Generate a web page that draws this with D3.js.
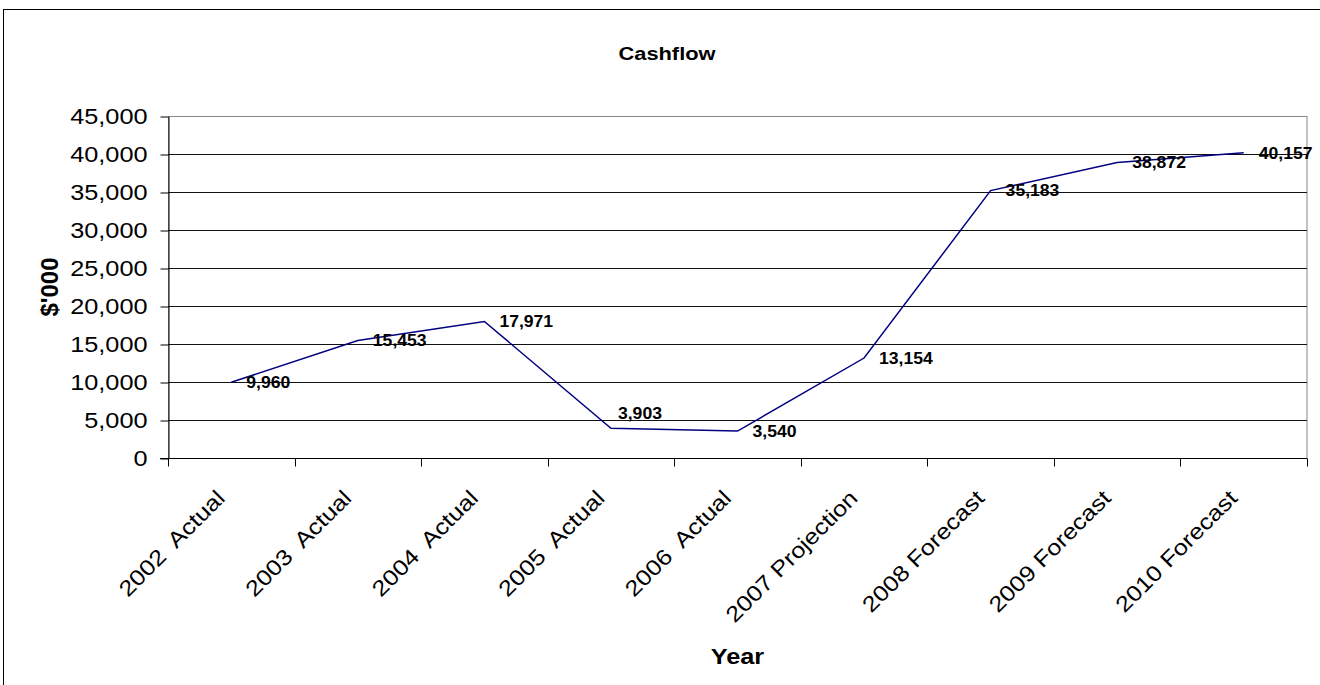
<!DOCTYPE html>
<html>
<head>
<meta charset="utf-8">
<script src="https://cdn.jsdelivr.net/npm/d3@7"></script>
<style>
  body { margin: 0; background: #fff; }
  svg { display: block; font-family: "Liberation Sans", Arial, sans-serif; }
  .tick text { white-space: pre; }
</style>
</head>
<body>
<svg width="1320" height="685"></svg>
<script>
// chart data
const years = ['2002  Actual', '2003  Actual', '2004  Actual', '2005  Actual', '2006  Actual',
  '2007 Projection', '2008 Forecast', '2009 Forecast', '2010 Forecast'];
const cashflow = [9960, 15453, 17971, 3903, 3540, 13154, 35183, 38872, 40157];
const yTicks = [0, 5000, 10000, 15000, 20000, 25000, 30000, 35000, 40000, 45000];
// where each data label sits relative to its point
const labelSide = ['right', 'right', 'right', 'above', 'right', 'right', 'right', 'right', 'right'];

const svg = d3.select('svg');
const plotLeft = 168, plotRight = 1307, plotTop = 116, plotBottom = 458;
const stretch = 1.15;

// outer chart frame
svg.append('rect')
  .attr('x', 3.5).attr('y', 9.5)
  .attr('width', 1340).attr('height', 700)
  .attr('fill', 'none').attr('stroke', '#000');

const x = d3.scaleBand().domain(years).range([plotLeft, plotRight]).padding(0);
const y = d3.scaleLinear().domain([0, 45000]).range([plotBottom, plotTop]);

// plot area border
svg.append('rect')
  .attr('x', plotLeft + 0.5).attr('y', plotTop + 0.5)
  .attr('width', plotRight - plotLeft - 0.5).attr('height', plotBottom - plotTop)
  .attr('fill', 'none').attr('stroke', '#888');

// gridlines
svg.append('g')
  .selectAll('line')
  .data(yTicks.filter(d => d > 0 && d < 45000))
  .join('line')
  .attr('x1', plotLeft).attr('x2', plotRight)
  .attr('y1', d => Math.round(y(d)) + 0.5).attr('y2', d => Math.round(y(d)) + 0.5)
  .attr('stroke', '#111').attr('stroke-width', 1);

// y axis
const yAxis = svg.append('g')
  .attr('transform', `translate(${plotLeft + 0.5},0.5)`)
  .call(d3.axisLeft(y).tickValues(yTicks).tickFormat(d3.format(',')).tickSize(8).tickSizeOuter(0));
yAxis.select('.domain').attr('stroke', '#000');
yAxis.selectAll('.tick line').attr('stroke', '#000');
yAxis.selectAll('.tick text')
  .attr('font-size', 22).attr('fill', '#000')
  .attr('x', -21 / stretch)
  .attr('transform', `scale(${stretch},1)`);

// x axis: labels at category centres, ticks at category edges
const xAxis = svg.append('g')
  .attr('transform', `translate(0,${plotBottom + 0.5})`)
  .call(d3.axisBottom(x).tickSize(0));
xAxis.select('.domain').remove();
xAxis.append('line')
  .attr('x1', plotLeft - 8).attr('x2', plotRight).attr('stroke', '#000');
xAxis.selectAll('.edge')
  .data(years.map(d => x(d)).concat([plotRight]))
  .join('line')
  .attr('class', 'edge')
  .attr('x1', d => Math.round(d) + 0.5).attr('x2', d => Math.round(d) + 0.5)
  .attr('y1', 0).attr('y2', 8)
  .attr('stroke', '#000');
xAxis.selectAll('.tick text')
  .attr('font-size', 22).attr('fill', '#000')
  .attr('text-anchor', 'end')
  .attr('y', null).attr('dy', null)
  .attr('transform', `translate(-5,41) rotate(-45) scale(${stretch},1)`);

// line
const line = d3.line()
  .x((d, i) => x(years[i]) + x.bandwidth() / 2)
  .y(d => y(d));
svg.append('path')
  .datum(cashflow)
  .attr('d', line)
  .attr('fill', 'none')
  .attr('stroke', '#000080')
  .attr('stroke-width', 1.5);

// data labels
svg.append('g')
  .selectAll('text')
  .data(cashflow)
  .join('text')
  .attr('transform', (d, i) => {
    const px = x(years[i]) + x.bandwidth() / 2, py = y(d);
    const tx = labelSide[i] === 'above' ? px + 7 : px + 15;
    const ty = labelSide[i] === 'above' ? py - 15 : py;
    return `translate(${tx},${ty}) scale(1.1,1)`;
  })
  .attr('dy', '0.36em')
  .attr('font-size', 16)
  .attr('font-weight', 'bold')
  .attr('fill', '#000')
  .text(d => d3.format(',')(d));

// titles
svg.append('text')
  .attr('transform', `translate(667,60) scale(${stretch},1)`)
  .attr('text-anchor', 'middle')
  .attr('font-size', 19).attr('font-weight', 'bold')
  .text('Cashflow');

svg.append('text')
  .attr('transform', `translate(${(plotLeft + plotRight) / 2},664) scale(${stretch},1)`)
  .attr('text-anchor', 'middle')
  .attr('font-size', 22).attr('font-weight', 'bold')
  .text('Year');

svg.append('text')
  .attr('transform', `translate(58,${(plotTop + plotBottom) / 2}) rotate(-90)`)
  .attr('text-anchor', 'middle')
  .attr('font-size', 24).attr('font-weight', 'bold')
  .text("$'000");
</script>
</body>
</html>
